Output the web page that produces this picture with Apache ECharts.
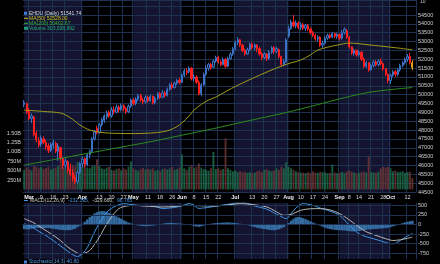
<!DOCTYPE html>
<html>
<head>
<meta charset="utf-8">
<script src="https://cdn.jsdelivr.net/npm/echarts@6/dist/echarts.min.js"></script>
<style>
html,body{margin:0;padding:0;background:#000;}
#chart{width:440px;height:264px;}
</style>
</head>
<body>
<div id="chart"></div>
<script>
//	trading days (US calendar, 2015)
var firstDay = [2015, 1, 26],
	lastDay = [2015, 9, 15],
	holidays = ['2015-04-03', '2015-05-25', '2015-07-03', '2015-09-07'];

var dates = [];
var day = new Date(Date.UTC(firstDay[0], firstDay[1], firstDay[2]));
var endDay = new Date(Date.UTC(lastDay[0], lastDay[1], lastDay[2]));
while(day <= endDay) {
	var s = day.toISOString().slice(0, 10);
	if(day.getUTCDay() != 0 && day.getUTCDay() != 6 && holidays.indexOf(s) < 0) dates.push(s);
	day.setUTCDate(day.getUTCDate() + 1);
}

//	x axis ticks
var tickDates = ['2015-03-02','2015-03-09','2015-03-16','2015-03-23','2015-04-01','2015-04-13','2015-04-20','2015-04-27',
	'2015-05-01','2015-05-11','2015-05-18','2015-05-26','2015-06-01','2015-06-08','2015-06-15','2015-06-22',
	'2015-07-01','2015-07-13','2015-07-20','2015-07-27','2015-08-03','2015-08-10','2015-08-17','2015-08-24',
	'2015-09-01','2015-09-08','2015-09-14','2015-09-21','2015-09-28','2015-10-01','2015-10-12'];
var tickTexts = ['Mar','9','16','23','Apr','13','20','27','May','11','18','26','Jun','8','15','22',
	'Jul','13','20','27','Aug','10','17','24','Sep','8','14','21','28','Oct','12'];

//	shaded months
var shadedMonths = [['2015-02-26','2015-04-01'], ['2015-05-01','2015-06-01'], ['2015-07-01','2015-08-03'], ['2015-09-01','2015-10-01']];

//	[open, close, low, high]
var candles = [
	[49450,49550,49300,49700],[49500,49000,48900,49550],[49050,48650,48550,49250],[48650,48800,48400,48950],[48750,47750,47650,48800],
	[47800,47450,47300,47950],[47400,47150,47000,47600],[47200,47550,47050,47700],[47500,47300,47200,47650],[47300,47050,46900,47450],
	[47100,46850,46700,47250],[46850,47200,46750,47300],[47150,47300,46950,47450],[47250,46800,46700,47350],[46800,47100,46250,47250],
	[47000,46400,46300,47050],[46400,46000,45800,46450],[46000,46250,45800,46400],[46200,45750,45600,46300],[45800,45500,45400,46100],
	[45600,45250,45100,45800],[45300,45100,44950,45450],[45100,45600,44950,45700],[45600,46100,45500,46200],[46100,46350,45900,46500],
	[46400,46050,45900,46450],[46050,46600,45950,46700],[46600,46800,46400,46900],[46800,47500,46700,47600],[47500,47900,47400,48000],
	[48100,47850,47750,48250],[47850,48300,47800,48400],[48300,48600,48200,48700],[48550,48800,48400,48900],[48750,48950,48600,49100],
	[49000,48800,48700,49100],[48800,49150,48700,49300],[49150,49050,48900,49350],[49000,49300,48950,49450],[49300,49150,49000,49400],
	[49150,49400,49050,49500],[49400,49200,49050,49450],[49200,49050,48900,49300],[49050,49350,48950,49450],[49350,49700,49250,49800],
	[49700,49500,49400,49800],[49500,49750,49400,49850],[49750,49950,49650,50050],[49950,49700,49600,50050],[49700,49600,49450,49800],
	[49600,49850,49500,49950],[49850,49650,49550,49950],[49650,49900,49600,50000],[49900,49550,49450,49950],[49550,49800,49450,49900],
	[49800,50050,49700,50150],[50050,49850,49750,50150],[49850,50100,49800,50250],[50100,49950,49850,50200],[49950,50300,49900,50400],
	[50300,50550,50200,50650],[50550,50400,50300,50700],[50400,50650,50350,50750],[50650,50800,50550,50900],[50800,50700,50600,50950],
	[50700,51100,50650,51200],[51100,51350,51000,51450],[51350,51250,51100,51500],[51300,51500,51200,51600],[51500,50900,50800,51550],
	[50900,51000,50750,51150],[51000,50700,50600,51100],[50700,50050,49950,50800],[50050,50550,49900,50650],[50550,51150,50500,51250],
	[51150,51500,51050,51650],[51500,51700,51350,51800],[51700,51550,51400,51800],[51550,51900,51500,52000],[51900,52100,51800,52200],
	[52100,51850,51750,52200],[51850,51700,51600,51950],[51700,52000,51650,52100],[52000,51600,51500,52050],[51600,52050,51550,52150],
	[52050,52300,51950,52400],[52300,52600,52200,52700],[52600,52950,52500,53050],[52950,53100,52800,53250],[53100,52800,52700,53150],
	[52800,52500,52400,52850],[52500,52300,52200,52600],[52300,52550,52250,52650],[52550,52850,52450,52950],[52850,52650,52550,52950],
	[52650,52800,52500,52900],[52800,52600,52400,52850],[52600,52300,52200,52700],[52300,52100,51950,52400],[52100,52300,52000,52400],
	[52300,52050,51900,52350],[52050,52400,51950,52500],[52400,52650,52300,52750],[52650,52450,52300,52750],[52450,52600,52350,52700],
	[52550,52150,52050,52600],[52150,51700,51600,52200],[51700,51850,51600,52000],[51850,53100,51800,53200],[53300,53750,53200,53900],
	[53750,54100,53650,54250],[54100,53900,53800,54500],[53900,54050,53750,54200],[54050,53800,53700,54150],[53800,53950,53650,54100],
	[53950,53750,53650,54050],[53750,53900,53600,54000],[53900,53700,53600,54000],[53700,53500,53400,53800],[53500,53350,53250,53600],
	[53350,53150,53050,53450],[53150,53250,53000,53350],[53250,52800,52700,53300],[52800,52900,52650,53050],[52900,53200,52850,53300],
	[53200,53350,53100,53450],[53350,53250,53150,53450],[53250,53450,53200,53550],[53450,53300,53200,53500],[53300,53400,53150,53500],
	[53400,53200,53050,53450],[53200,53500,53100,53650],[53500,53700,53400,53800],[53600,53250,53150,53700],[53250,52700,52600,53300],
	[52700,52350,52250,52750],[52350,52500,52200,52600],[52500,52250,52150,52550],[52250,52400,52150,52500],[52400,52000,51900,52450],
	[52000,51600,51500,52100],[51600,51800,51500,51900],[51800,51400,51300,51850],[51400,51650,51350,51750],[51650,51850,51550,51950],
	[51850,51700,51600,51950],[51700,51900,51600,52000],[51900,51750,51650,52050],[51750,51450,51350,51800],[51450,51150,51050,51500],
	[51150,50800,50650,51200],[50800,51100,50600,51200],[51100,51300,51000,51400],[51300,51150,51000,51400],[51150,51400,51050,51500],
	[51400,51650,51300,51750],[51650,51800,51550,51900],[51800,52000,51700,52100],[52000,52150,51850,52300],[52150,51800,51700,52350],
	[51800,51541.74,51400,51950]
];

//	volume, millions
var volume = [
	520,580,540,510,620,600,560,590,540,570,
	600,530,560,580,620,1120,590,540,600,620,
	640,610,720,650,600,630,580,560,610,640,
	800,620,560,540,580,600,520,500,540,560,
	510,560,530,600,740,560,520,500,540,570,
	520,550,530,560,500,520,480,540,560,530,
	560,600,520,540,580,930,560,520,600,640,
	560,600,690,580,540,520,500,560,1000,540,
	560,520,540,1360,560,520,480,500,460,480,
	450,470,440,460,430,450,480,500,460,520,
	540,500,480,510,560,520,600,560,720,600,
	560,520,480,460,440,450,430,460,440,480,
	450,440,470,460,450,430,440,660,450,430,
	440,460,430,480,500,470,450,430,440,460,
	470,450,880,460,450,440,470,560,600,580,
	600,560,480,500,460,470,480,440,460,470,
	303.008992
];

//	moving averages: [bar, value]
var ma50 = [[0,49130],[8,49050],[15,48960],[19,48700],[23,48280],[27,48000],[31,47880],[35,47830],[44,47800],[52,47830],
	[57,47900],[60,48000],[63,48200],[65,48400],[68,48800],[70,49130],[73,49450],[76,49700],[79,49860],[84,50250],
	[90,50660],[97,51100],[105,51560],[110,51800],[114,51955],[118,52250],[121,52520],[125,52680],[129,52800],[134,52915],
	[138,52880],[143,52800],[150,52700],[155,52620],[160,52528]];
var ma200 = [[0,46020],[13,46350],[26,46680],[39,47010],[52,47340],[65,47710],[79,48110],[93,48540],[107,48960],
	[118,49330],[128,49690],[136,49960],[143,50150],[152,50300],[160,50403]];

//	MACD(12,26,9)
var macdLine = [[0,20],[3,-60],[6,-180],[9,-290],[12,-420],[15,-560],[18,-700],[20,-790],[22,-836],[24,-760],[26,-600],
	[28,-330],[30,-70],[32,130],[34,320],[36,420],[38,490],[41,545],[45,510],[49,490],[52,495],[55,450],[57,414],[60,430],
	[63,456],[66,510],[68,545],[70,500],[72,420],[74,430],[77,456],[81,500],[86,545],[89,587],[92,550],[94,500],[97,450],
	[100,400],[103,300],[105,238],[108,152],[110,280],[112,430],[115,545],[119,500],[122,430],[125,370],[128,300],[130,238],
	[132,120],[134,-24],[136,-140],[138,-241],[141,-320],[144,-372],[147,-430],[150,-488],[152,-503],[154,-460],[156,-372],
	[158,-300],[160,-232]];
var signalLine = [[0,152],[4,40],[8,-120],[11,-241],[15,-420],[18,-592],[21,-710],[23,-765],[25,-745],[27,-679],[29,-520],
	[31,-330],[33,-100],[35,107],[37,280],[39,414],[42,480],[45,500],[50,480],[57,456],[62,470],[67,500],[72,490],[78,480],
	[84,510],[89,545],[94,520],[100,456],[104,330],[107,238],[110,260],[114,370],[118,410],[122,414],[126,380],[130,283],
	[134,120],[138,-68],[141,-190],[145,-286],[149,-370],[152,-417],[155,-400],[158,-360],[160,-330]];
var macdHist = [
	-120,-125,-130,-110,-100,-95,-90,-95,-100,-90,
	-95,-100,-110,-120,-130,-140,-145,-150,-150,-145,
	-130,-110,-70,-30,20,70,130,190,240,290,
	320,340,350,345,330,300,270,240,210,180,
	150,110,80,50,30,10,-10,-25,-35,-40,
	-45,-40,-35,-30,-20,-10,5,20,30,40,
	45,40,35,30,25,20,15,10,0,-20,
	-40,-55,-60,-50,-30,-10,10,20,30,35,
	40,45,50,55,55,50,45,40,30,20,
	10,0,-15,-30,-50,-70,-85,-100,-110,-120,
	-130,-140,-150,-150,-140,-125,-100,-70,-20,40,
	100,150,185,195,185,165,140,110,80,50,
	25,0,-30,-60,-85,-105,-120,-130,-140,-145,
	-150,-150,-155,-165,-175,-180,-180,-175,-170,-160,
	-150,-140,-130,-125,-120,-115,-110,-105,-100,-95,
	-85,-70,-50,-30,-10,15,35,55,70,85,96.765
];

var lastClose = 51541.74, lastMa50 = 52528.00, lastMa200 = 50402.67, lastVolume = 303008992,
	lastMacd = -232.395, lastSignal = -329.660, lastHist = 96.765;


//	build chart
var font = 'Liberation Sans';
var gridColor = '#1d3150';
var navy = '#141430';

var tickMap = {};
for(var i=0; i<tickDates.length; i++) tickMap[tickDates[i]] = tickTexts[i];
function isTick(index, value) { return tickMap.hasOwnProperty(value); }

var bandData = [];
for(var i=0; i<shadedMonths.length; i++) {
	bandData.push([{xAxis: shadedMonths[i][0]}, {xAxis: shadedMonths[i][1]}]);
}

var candleData = [], volData = [];
for(var i=0; i<candles.length; i++) {
	var up = i == 0 ? candles[i][1] >= candles[i][0] : candles[i][1] >= candles[i-1][1];
	if(i == candles.length - 1) {
		candleData.push({value: candles[i], itemStyle: {color: '#e8a31a', color0: '#e8a31a', borderColor: '#e8a31a', borderColor0: '#e8a31a'}});
	}else{
		candleData.push(candles[i]);
	}
	volData.push({value: volume[i], itemStyle: {color: up ? '#1d6a48' : '#6a3434'}});
}

function tag(value, text, bg, border, color) {
	return {
		silent: true,
		symbol: 'none',
		lineStyle: {opacity: 0},
		label: {
			show: true, position: 'end', distance: 1, formatter: text,
			fontFamily: font, fontSize: 5.5, color: color,
			backgroundColor: bg, borderColor: border, borderWidth: 1, padding: [0.5, 1]
		},
		emphasis: {disabled: true},
		data: [{yAxis: value}]
	};
}

function volLabel(v) {
	if(v <= 0 || v > 1500) return '';
	return v < 1000 ? v + 'M' : (v / 1000).toFixed(2) + 'B';
}

var hLines = [];
[-750, -500, -250, 0, 250, 500].forEach(function(v) { hLines.push({yAxis: v}); });

function txt(text, x, y, fill) {
	return {type: 'text', z: 100, x: x, y: y, style: {text: text, fill: fill, fontSize: 5, fontFamily: font, verticalAlign: 'middle'}};
}
function box(x, y, w, h, fill) {
	return {type: 'rect', z: 100, shape: {x: x, y: y, width: w, height: h}, style: {fill: fill}};
}

var myChart = echarts.init(document.getElementById('chart'));

var option = {
	animation: false,
	backgroundColor: '#000',
	textStyle: {fontFamily: font},
	grid: [
		{left: 23, right: 24, top: 0, height: 192},
		{left: 23, right: 24, top: 0, height: 189.4},
		{left: 23, right: 24, top: 203, height: 56}
	],
	xAxis: [
		{
			gridIndex: 0, type: 'category', data: dates, boundaryGap: true, z: 1.5,
			axisLine: {lineStyle: {color: gridColor}},
			axisTick: {show: false},
			axisLabel: {
				interval: isTick, margin: 2, color: '#dcdcdc', fontSize: 5.5, fontFamily: font,
				formatter: function(v) {
					var t = tickMap[v];
					return /^[A-Z]/.test(t) ? '{m|' + t + '}' : t;
				},
				rich: {m: {fontWeight: 'bold', color: '#f0f0f0', fontSize: 5.5, fontFamily: font}}
			},
			splitLine: {show: true, interval: isTick, lineStyle: {color: gridColor, width: 1}}
		},
		{gridIndex: 1, type: 'category', data: dates, boundaryGap: true, show: false},
		{
			gridIndex: 2, type: 'category', data: dates, boundaryGap: true, z: 1.5,
			axisLine: {lineStyle: {color: gridColor}},
			axisTick: {show: false},
			axisLabel: {show: false},
			splitLine: {show: true, interval: isTick, lineStyle: {color: gridColor, width: 1}}
		}
	],
	yAxis: [
		{
			gridIndex: 0, type: 'value', position: 'right', min: 44500, max: 55349, interval: 500, z: 1.5,
			axisLine: {show: true, lineStyle: {color: gridColor}},
			axisTick: {show: false},
			axisLabel: {
				margin: 2, color: '#d0d0d0', fontSize: 5.5, fontFamily: font,
				formatter: function(v) { return v > 54500 ? '' : String(v); }
			},
			splitLine: {lineStyle: {color: gridColor, width: 1}}
		},
		{
			gridIndex: 1, type: 'value', position: 'left', min: 0, max: 5037, interval: 250, z: 1.5,
			axisLine: {show: false}, axisTick: {show: false}, splitLine: {show: false},
			axisLabel: {margin: 2, color: '#d0d0d0', fontSize: 5.5, fontFamily: font, formatter: volLabel}
		},
		{
			gridIndex: 2, type: 'value', position: 'right', min: -900, max: 560, z: 1.5,
			axisLine: {show: true, lineStyle: {color: gridColor}},
			axisTick: {show: false},
			splitLine: {show: false},
			axisLabel: {
				margin: 2, color: '#d0d0d0', fontSize: 5.5, fontFamily: font,
				customValues: [-750, -500, -250, 0, 250, 500]
			}
		}
	],
	series: [
		{
			name: 'bands', type: 'line', xAxisIndex: 0, yAxisIndex: 0, z: 1,
			data: ma200, showSymbol: false, silent: true, lineStyle: {opacity: 0},
			markArea: {silent: true, itemStyle: {color: navy}, data: bandData}
		},
		{
			name: 'Volume', type: 'bar', xAxisIndex: 1, yAxisIndex: 1, z: 2,
			data: volData, barCategoryGap: '20%', itemStyle: {opacity: 0.85},
			markLine: tag(lastVolume / 1e6, '303,008,992', '#12305a', '#3d86d8', '#e6eefa')
		},
		{
			name: 'EHDU', type: 'candlestick', xAxisIndex: 0, yAxisIndex: 0, z: 3,
			data: candleData, barWidth: '72%',
			itemStyle: {color: '#0b1630', color0: '#ff1e1e', borderColor: '#3c72c4', borderColor0: '#ff1e1e', borderWidth: 1},
			markLine: tag(lastClose, '51541.74', '#0c1a36', '#9fb4d4', '#ffffff')
		},
		{
			name: 'MA(50)', type: 'line', xAxisIndex: 0, yAxisIndex: 0, z: 4,
			data: ma50, showSymbol: false, smooth: 0.3,
			lineStyle: {color: '#a09a1c', width: 1},
			markLine: tag(lastMa50, '52528.00', '#1c1a06', '#b8ae2a', '#e8e0a0')
		},
		{
			name: 'MA(200)', type: 'line', xAxisIndex: 0, yAxisIndex: 0, z: 4,
			data: ma200, showSymbol: false, smooth: 0.3,
			lineStyle: {color: '#2a8c1e', width: 1},
			markLine: tag(lastMa200, '50402.67', '#0a200a', '#2e9e2e', '#d6f0d6')
		},
		{
			name: 'macdBands', type: 'line', xAxisIndex: 2, yAxisIndex: 2, z: 1,
			data: macdLine, showSymbol: false, silent: true, lineStyle: {opacity: 0},
			markArea: {silent: true, itemStyle: {color: navy}, data: bandData},
			markLine: {silent: true, symbol: 'none', label: {show: false}, lineStyle: {color: gridColor, width: 1, type: 'solid'},
				emphasis: {disabled: true}, data: hLines}
		},
		{
			name: 'Hist', type: 'bar', xAxisIndex: 2, yAxisIndex: 2, z: 2,
			data: macdHist, barCategoryGap: '0%', itemStyle: {color: '#3a78b4', opacity: 0.9},
			markLine: tag(lastHist, '96.765', '#2f6098', '#6aa8e4', '#ffffff')
		},
		{
			name: 'MACD', type: 'line', xAxisIndex: 2, yAxisIndex: 2, z: 3,
			data: macdLine, showSymbol: false, smooth: 0.3,
			lineStyle: {color: '#3f94e4', width: 1},
			markLine: tag(lastMacd, '-232.395', '#0e2446', '#4f9be6', '#ffffff')
		},
		{
			name: 'Signal', type: 'line', xAxisIndex: 2, yAxisIndex: 2, z: 3,
			data: signalLine, showSymbol: false, smooth: 0.3,
			lineStyle: {color: '#b8b8b8', width: 1},
			markLine: tag(lastSignal, '-329.660', '#4a4a52', '#b0b0b0', '#ffffff')
		}
	],
	graphic: [
		box(24, 11.8, 3, 3, '#3f7fd8'),
		txt('EHDU (Daily) 51541.74', 29, 13.3, '#d8d8d8'),
		box(24, 17.8, 4, 1, '#c8c020'),
		txt('MA(50) 52528.00', 29, 18.3, '#c8c020'),
		box(24, 22.8, 4, 1, '#34b034'),
		txt('MA(200) 50402.67', 29, 23.3, '#34b034'),
		box(24, 26.8, 4, 3, '#1f9a70'),
		txt('Volume 303,008,992', 29, 28.3, '#26b07e'),
		txt('10', 420, 1.5, '#c8c8c8'),
		box(24, 200, 4, 1, '#3f94e4'),
		{type: 'text', z: 100, x: 30, y: 200.5, style: {
			text: '{g|MACD(12,26,9)} {b|-232.395,} {g|-329.660,} {b|96.765}', verticalAlign: 'middle',
			rich: {
				g: {fill: '#c8c8c8', fontSize: 5, fontFamily: font},
				b: {fill: '#4f9be6', fontSize: 5, fontFamily: font}
			}
		}},
		box(24, 260.5, 3, 3, '#3f7fd8'),
		txt('Stochastic(14,3) 40.80', 29, 262, '#4f9be6')
	]
};

myChart.setOption(option);
</script>
</body>
</html>
